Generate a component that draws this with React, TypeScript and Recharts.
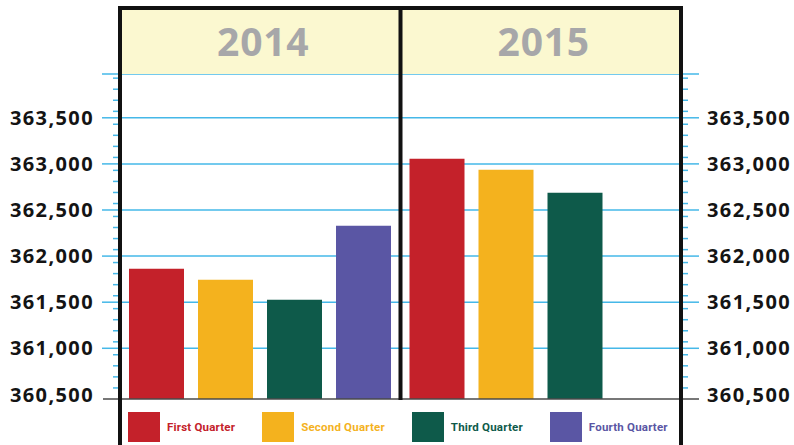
import React from 'react';
import { BarChart, Bar, XAxis, YAxis, CartesianGrid, Legend } from 'recharts';

// values
const years = ['2014', '2015'];
const firstQuarter = [361862, 363055];
const secondQuarter = [361743, 362936];
const thirdQuarter = [361526, 362687];
const fourthQuarter = [362329, null];

const labelTicks = [360500, 361000, 361500, 362000, 362500, 363000, 363500];
const gridTicks = [361000, 361500, 362000, 362500, 363000, 363500];
const minorBases = [361000, 361500, 362000, 362500, 363000, 363500, 364000];
const minorOffsets = [70, 190, 310, 430];
const yDomain = [360450, 363975];

const seriesNames = ['First Quarter', 'Second Quarter', 'Third Quarter', 'Fourth Quarter'];
const seriesColors = ['#C4212A', '#F4B21E', '#0E5A4A', '#5A56A4'];

const minorTicks = minorBases.flatMap(b => minorOffsets.map(o => b - o));
const topTick = yDomain[1];
const allTicks = [...labelTicks, ...minorTicks, topTick];

const data = years.map((year, i) => ({
  year,
  q1: firstQuarter[i],
  q2: secondQuarter[i],
  q3: thirdQuarter[i],
  q4: fourthQuarter[i],
}));
const seriesKeys = ['q1', 'q2', 'q3', 'q4'];

const W = 794;
const H = 445;
const PLOT_LEFT = 120;
const PLOT_RIGHT = 681;
const PLOT_TOP = 74;
const PLOT_BOTTOM = 399;
const FRAME_TOP = 8;
const AXIS_W = 100;
const GRID = '#45B8E8';
const LABEL_FONT = "'Open Sans', sans-serif";

const AxisTick = (props: any) => {
  const { x, y, payload, side } = props;
  const v = payload.value;
  const dir = side === 'left' ? -1 : 1;
  const parts: React.ReactNode[] = [];
  if (gridTicks.includes(v) || v === topTick) {
    parts.push(<line key="g" x1={x} x2={x + dir * 18} y1={y} y2={y} stroke={GRID} strokeWidth={1.5} />);
  } else if (!labelTicks.includes(v)) {
    parts.push(<line key="m" x1={x} x2={x + dir * 7} y1={y} y2={y} stroke={GRID} strokeWidth={1.5} />);
  }
  if (labelTicks.includes(v)) {
    parts.push(
      <text
        key="t"
        x={x + dir * 26}
        y={y}
        dy="0.36em"
        textAnchor={side === 'left' ? 'end' : 'start'}
        fontFamily={LABEL_FONT}
        fontWeight={700}
        fontSize={20}
        letterSpacing={1.4}
        fill="#141414"
      >
        {v.toLocaleString('en-US')}
      </text>
    );
  }
  return <g>{parts}</g>;
};

const YearTick = (props: any) => {
  const { x, y, payload } = props;
  const half = (PLOT_RIGHT - PLOT_LEFT) / years.length / 2;
  return (
    <g>
      <rect x={x - half} y={FRAME_TOP} width={half * 2} height={y - FRAME_TOP} fill="#FBF8D0" />
      <text
        x={x + 3}
        y={(FRAME_TOP + y) / 2 + 1}
        dy="0.36em"
        textAnchor="middle"
        fontFamily={LABEL_FONT}
        fontWeight={700}
        fontSize={39}
        letterSpacing={0.8}
        fill="#A7A7A9"
      >
        {payload.value}
      </text>
    </g>
  );
};

const renderLegend = (props: any) => {
  const items = [...(props.payload || [])].sort(
    (a: any, b: any) => seriesNames.indexOf(a.value) - seriesNames.indexOf(b.value)
  );
  return (
    <div style={{ display: 'flex', alignItems: 'center' }}>
      {items.map((entry: any) => (
        <div key={entry.value} style={{ display: 'flex', alignItems: 'center', marginRight: 27 }}>
          <div style={{ width: 32, height: 30, background: entry.color }} />
          <span
            style={{
              marginLeft: 7,
              color: entry.color,
              fontFamily: "'Liberation Sans Narrow', Roboto, sans-serif",
              fontWeight: 700,
              fontSize: 11.5,
              letterSpacing: 0.2,
            }}
          >
            {entry.value}
          </span>
        </div>
      ))}
    </div>
  );
};

export default function App() {
  const mid = (PLOT_LEFT + PLOT_RIGHT) / 2;
  return (
    <div style={{ position: 'absolute', left: 0, top: 0, width: W, height: H, background: '#fff' }}>
      <BarChart
        width={W}
        height={H}
        data={data}
        margin={{ top: FRAME_TOP, left: PLOT_LEFT - AXIS_W, right: W - PLOT_RIGHT - AXIS_W, bottom: H - PLOT_BOTTOM }}
        barSize={55}
        barGap={14}
      >
        <CartesianGrid
          vertical={false}
          horizontalValues={[...gridTicks, topTick]}
          stroke={GRID}
          strokeWidth={1.5}
          strokeDasharray=""
        />
        <XAxis
          dataKey="year"
          orientation="top"
          height={PLOT_TOP - FRAME_TOP}
          axisLine={false}
          tickLine={false}
          tickSize={0}
          tickMargin={0}
          interval={0}
          tick={<YearTick />}
        />
        <YAxis
          domain={yDomain}
          ticks={allTicks}
          interval={0}
          width={AXIS_W}
          axisLine={false}
          tickLine={false}
          tickSize={0}
          tickMargin={0}
          allowDataOverflow
          tick={<AxisTick side="left" />}
        />
        <YAxis
          yAxisId="right"
          orientation="right"
          domain={yDomain}
          ticks={allTicks}
          interval={0}
          width={AXIS_W}
          axisLine={false}
          tickLine={false}
          tickSize={0}
          tickMargin={0}
          allowDataOverflow
          tick={<AxisTick side="right" />}
        />
        <Legend
          layout="horizontal"
          verticalAlign="middle"
          align="center"
          wrapperStyle={{ top: 412, left: 128, width: 600, height: 30 }}
          content={renderLegend}
        />
        {seriesKeys.map((k, i) => (
          <Bar key={k} dataKey={k} name={seriesNames[i]} fill={seriesColors[i]} isAnimationActive={false} />
        ))}
      </BarChart>
      <svg width={W} height={H} style={{ position: 'absolute', left: 0, top: 0, pointerEvents: 'none' }}>
        <line x1={103} x2={699} y1={PLOT_BOTTOM} y2={PLOT_BOTTOM} stroke="#4a4a4a" strokeWidth={1.5} />
        <line x1={PLOT_LEFT - 2} x2={PLOT_RIGHT + 2} y1={FRAME_TOP} y2={FRAME_TOP} stroke="#111" strokeWidth={4} />
        <line x1={PLOT_LEFT} x2={PLOT_LEFT} y1={FRAME_TOP - 2} y2={H} stroke="#111" strokeWidth={4} />
        <line x1={mid} x2={mid} y1={FRAME_TOP - 2} y2={PLOT_BOTTOM + 1} stroke="#111" strokeWidth={4} />
        <line x1={PLOT_RIGHT} x2={PLOT_RIGHT} y1={FRAME_TOP - 2} y2={H} stroke="#111" strokeWidth={4} />
      </svg>
    </div>
  );
}
